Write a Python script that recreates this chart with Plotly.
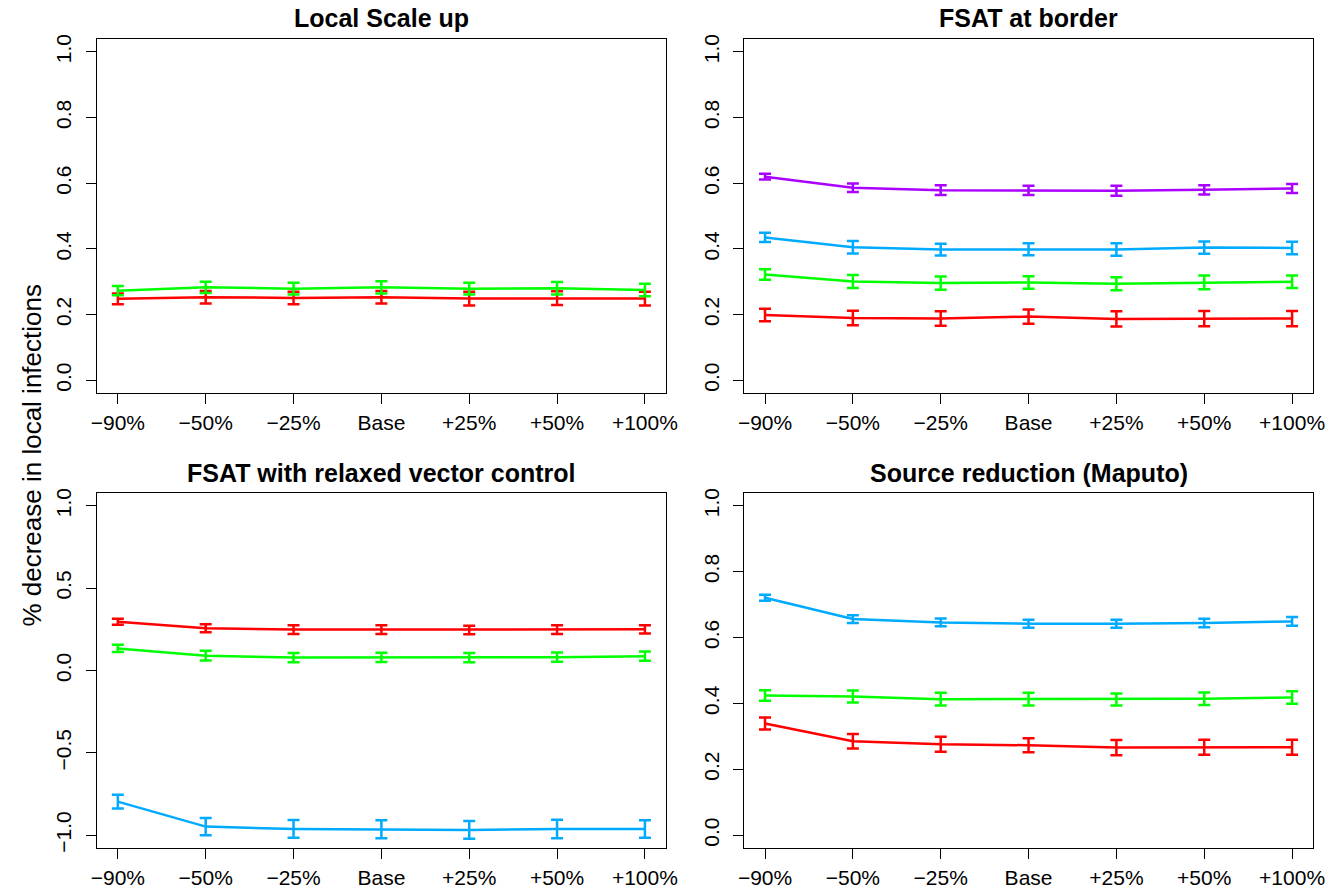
import plotly.graph_objects as go

categories = ["\u221290%", "\u221250%", "\u221225%", "Base", "+25%", "+50%", "+100%"]

# Panel 1: Local Scale up
p1_red = [0.248, 0.253, 0.251, 0.253, 0.249, 0.250, 0.249]
p1_red_err = [0.016, 0.019, 0.019, 0.019, 0.021, 0.021, 0.021]
p1_green = [0.273, 0.283, 0.279, 0.283, 0.279, 0.280, 0.275]
p1_green_err = [0.014, 0.017, 0.018, 0.019, 0.018, 0.019, 0.019]

# Panel 2: FSAT at border
p2_red = [0.199, 0.190, 0.188, 0.194, 0.187, 0.188, 0.188]
p2_red_err = [0.019, 0.022, 0.022, 0.022, 0.023, 0.023, 0.023]
p2_green = [0.322, 0.301, 0.296, 0.298, 0.294, 0.298, 0.300]
p2_green_err = [0.016, 0.020, 0.020, 0.019, 0.020, 0.021, 0.019]
p2_blue = [0.435, 0.405, 0.398, 0.399, 0.398, 0.404, 0.403]
p2_blue_err = [0.014, 0.019, 0.018, 0.018, 0.019, 0.019, 0.019]
p2_purple = [0.620, 0.586, 0.579, 0.578, 0.577, 0.580, 0.584]
p2_purple_err = [0.009, 0.013, 0.015, 0.014, 0.015, 0.014, 0.014]

# Panel 3: FSAT with relaxed vector control
p3_red = [0.296, 0.256, 0.248, 0.248, 0.246, 0.248, 0.250]
p3_red_err = [0.018, 0.024, 0.026, 0.026, 0.026, 0.026, 0.025]
p3_green = [0.134, 0.090, 0.078, 0.079, 0.078, 0.081, 0.087]
p3_green_err = [0.022, 0.029, 0.028, 0.028, 0.028, 0.028, 0.028]
p3_blue = [-0.796, -0.948, -0.962, -0.964, -0.968, -0.962, -0.962]
p3_blue_err = [0.042, 0.053, 0.054, 0.054, 0.054, 0.056, 0.053]

# Panel 4: Source reduction (Maputo)
p4_red = [0.339, 0.285, 0.276, 0.273, 0.266, 0.267, 0.267]
p4_red_err = [0.018, 0.022, 0.023, 0.021, 0.023, 0.023, 0.023]
p4_green = [0.424, 0.421, 0.413, 0.413, 0.412, 0.414, 0.418]
p4_green_err = [0.016, 0.018, 0.019, 0.019, 0.018, 0.019, 0.019]
p4_blue = [0.721, 0.656, 0.646, 0.642, 0.642, 0.644, 0.649]
p4_blue_err = [0.009, 0.012, 0.012, 0.012, 0.012, 0.013, 0.013]

titles = ["Local Scale up", "FSAT at border",
          "FSAT with relaxed vector control", "Source reduction (Maputo)"]
y_label = "% decrease in local infections"

RED, GREEN, BLUE, PURPLE = "#FF0000", "#00FF00", "#00AAFF", "#AA00FF"

panels = [
    [(p1_red, p1_red_err, RED), (p1_green, p1_green_err, GREEN)],
    [(p2_red, p2_red_err, RED), (p2_green, p2_green_err, GREEN),
     (p2_blue, p2_blue_err, BLUE), (p2_purple, p2_purple_err, PURPLE)],
    [(p3_red, p3_red_err, RED), (p3_green, p3_green_err, GREEN),
     (p3_blue, p3_blue_err, BLUE)],
    [(p4_red, p4_red_err, RED), (p4_green, p4_green_err, GREEN),
     (p4_blue, p4_blue_err, BLUE)],
]

W, H = 1338, 893
FONT = "Liberation Sans, Arial, Helvetica, sans-serif"

# pixel boxes (left, right, top, bottom)
boxes = [(92, 669, 35, 393), (748, 1325, 35, 393),
         (92, 669, 493, 852), (748, 1325, 493, 852)]
title_y = [14, 14, 473, 473]
yranges = [(-0.04, 1.04), (-0.04, 1.04), (-1.08, 1.08), (-0.04, 1.04)]
yticks = [[0, 0.2, 0.4, 0.6, 0.8, 1.0]] * 2 + [[-1.0, -0.5, 0.0, 0.5, 1.0]] + [[0, 0.2, 0.4, 0.6, 0.8, 1.0]]

fig = go.Figure()
xnum = list(range(1, len(categories) + 1))

for i, series in enumerate(panels):
    ax = "" if i == 0 else str(i + 1)
    for vals, errs, col in series:
        fig.add_trace(go.Scatter(
            x=xnum, y=vals, mode="lines",
            line=dict(color=col, width=2.5),
            error_y=dict(type="data", array=errs, visible=True,
                         color=col, thickness=2.5, width=6),
            xaxis="x" + ax, yaxis="y" + ax, showlegend=False,
            hoverinfo="skip"))
    l, r, t, b = boxes[i]
    xd = [l / W, r / W]
    yd = [(H - b) / H, (H - t) / H]
    common = dict(showline=True, linecolor="black", linewidth=1, mirror=True,
                  ticks="outside", ticklen=10, tickwidth=1, tickcolor="black",
                  showgrid=False, zeroline=False,
                  tickfont=dict(family=FONT, size=21, color="black"))
    fig.update_layout(**{
        "xaxis" + ax: dict(domain=xd, range=[0.76, 7.24], tickmode="array",
                           tickvals=xnum, ticktext=categories,
                           anchor="y" + ax, ticklabelstandoff=0, **common),
        "yaxis" + ax: dict(domain=yd, range=list(yranges[i]), tickmode="array",
                           tickvals=yticks[i],
                           ticktext=[("\u2212" if v < 0 else "") + f"{abs(v):.1f}" for v in yticks[i]],
                           tickangle=-90, anchor="x" + ax, ticklabelstandoff=6, **common),
    })
    fig.add_annotation(text="<b>" + titles[i] + "</b>", xref="paper", yref="paper",
                       x=(l + r) / 2 / W, y=(H - title_y[i]) / H,
                       xanchor="center", yanchor="middle", showarrow=False,
                       font=dict(family=FONT, size=25, color="black"))

fig.add_annotation(text=y_label, xref="paper", yref="paper",
                   x=26 / W, y=(H - 455) / H, textangle=-90,
                   xanchor="center", yanchor="middle", showarrow=False,
                   font=dict(family=FONT, size=26, color="black"))

fig.update_layout(autosize=True, margin=dict(l=0, r=0, t=0, b=0),
                  plot_bgcolor="white", paper_bgcolor="white",
                  font=dict(family=FONT, color="black"))

fig.write_html(
    "out.html",
    default_width="100vw", default_height="100vh",
    config=dict(displayModeBar=False, responsive=True),
    post_script=(
        "document.documentElement.style.margin='0';"
        "document.documentElement.style.overflow='hidden';"
        "document.body.style.margin='0';"
        "document.body.style.overflow='hidden';"
        "window.dispatchEvent(new Event('resize'));"
    ),
)
